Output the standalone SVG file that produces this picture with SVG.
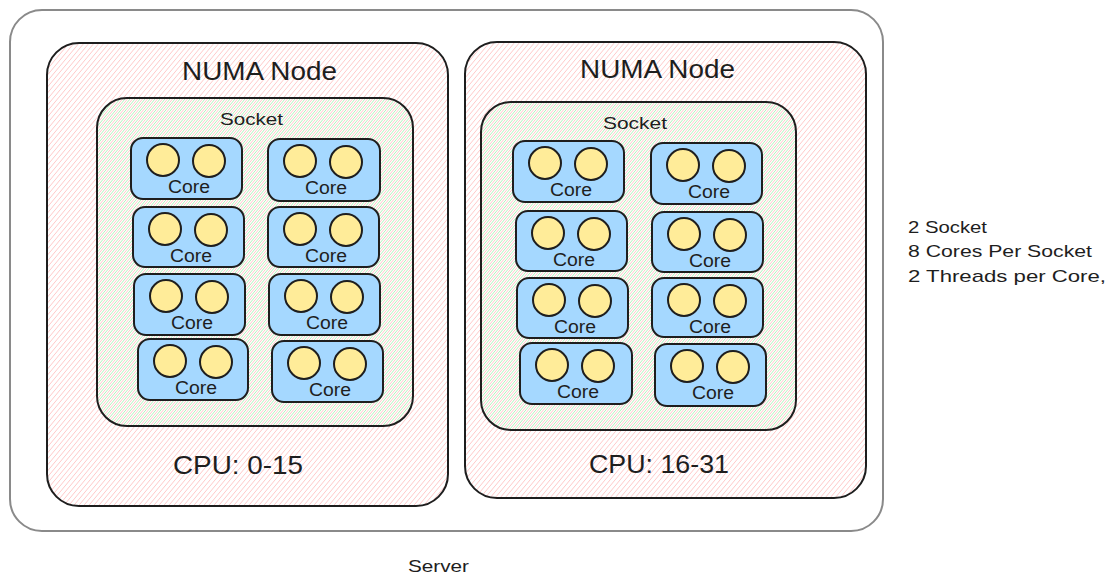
<svg xmlns="http://www.w3.org/2000/svg" width="1111" height="588" viewBox="0 0 1111 588">
  <style>
    .txt { font-family: "Liberation Sans", Arial, sans-serif; fill: #1e1e1e; }
    .server { fill: none; stroke: #8a8a8a; stroke-width: 2; }
    .numa { fill: url(#hatch-red); stroke: #1e1e1e; stroke-width: 2; }
    .socket { fill: url(#hatch-green); stroke: #1e1e1e; stroke-width: 2; }
    .core { fill: #a5d8ff; stroke: #1e1e1e; stroke-width: 2; }
    .thread { fill: #ffec99; stroke: #1e1e1e; stroke-width: 2; }
    .title { font-size: 25px; }
    .cpu { font-size: 25px; }
    .label { font-size: 17px; }
    .corelabel { font-size: 18px; text-anchor: middle; }
    .note { font-size: 17px; }
    .hr { stroke: #ffc9c9; stroke-width: 1; fill: none; }
    .hg { stroke: #b2f2bb; stroke-width: 1; fill: none; }
  </style>
  <defs>
    <pattern id="hatch-red" patternUnits="userSpaceOnUse" x="0" y="0" width="5" height="6">
      <path class="hr" d="M-5,6 L0,0 M0,6 L5,0 M5,6 L10,0"/>
    </pattern>
    <pattern id="hatch-green" patternUnits="userSpaceOnUse" x="0" y="0" width="5" height="6">
      <path class="hg" d="M-2.5,6 L2.5,0 M2.5,6 L7.5,0"/>
    </pattern>
    <g id="core-shape">
      <circle class="thread" cx="32" cy="22" r="16"/>
      <circle class="thread" cx="78" cy="23" r="16"/>
      <text class="txt corelabel" x="58" y="55" textLength="42" lengthAdjust="spacingAndGlyphs">Core</text>
    </g>
  </defs>

  <rect x="0" y="0" width="1111" height="588" fill="#ffffff"/>

  <g id="server">
    <rect class="server" x="10" y="10" width="873" height="521" rx="32"/>
    <text class="txt label" x="408" y="572" textLength="61" lengthAdjust="spacingAndGlyphs">Server</text>
  </g>

  <g id="numa-1">
    <rect class="numa" x="47" y="43" width="401" height="463" rx="32"/>
    <text class="txt title" x="182" y="80" textLength="155" lengthAdjust="spacingAndGlyphs">NUMA Node</text>
    <text class="txt cpu" x="173" y="474" textLength="130" lengthAdjust="spacingAndGlyphs">CPU: 0-15</text>
  </g>

  <g id="numa-2">
    <rect class="numa" x="465" y="42" width="401" height="456" rx="32"/>
    <text class="txt title" x="580" y="78" textLength="155" lengthAdjust="spacingAndGlyphs">NUMA Node</text>
    <text class="txt cpu" x="589" y="473" textLength="140" lengthAdjust="spacingAndGlyphs">CPU: 16-31</text>
  </g>

  <g id="socket-1">
    <rect class="socket" x="97" y="98" width="316" height="328" rx="30"/>
    <text class="txt label" x="220" y="125" textLength="63" lengthAdjust="spacingAndGlyphs">Socket</text>
  </g>

  <g id="socket-2">
    <rect class="socket" x="481" y="102" width="315" height="328" rx="30"/>
    <text class="txt label" x="603" y="129" textLength="64" lengthAdjust="spacingAndGlyphs">Socket</text>
  </g>

  <g id="core-1-1" transform="translate(131,138)"><rect class="core" width="111" height="61" rx="12"/><use href="#core-shape"/></g>
  <g id="core-1-2" transform="translate(268,139)"><rect class="core" width="112" height="62" rx="12"/><use href="#core-shape"/></g>
  <g id="core-1-3" transform="translate(133,207)"><rect class="core" width="111" height="60" rx="12"/><use href="#core-shape"/></g>
  <g id="core-1-4" transform="translate(268,207)"><rect class="core" width="111" height="60" rx="12"/><use href="#core-shape"/></g>
  <g id="core-1-5" transform="translate(134,274)"><rect class="core" width="111" height="61" rx="12"/><use href="#core-shape"/></g>
  <g id="core-1-6" transform="translate(269,274)"><rect class="core" width="111" height="61" rx="12"/><use href="#core-shape"/></g>
  <g id="core-1-7" transform="translate(138,339)"><rect class="core" width="110" height="61" rx="12"/><use href="#core-shape"/></g>
  <g id="core-1-8" transform="translate(272,341)"><rect class="core" width="111" height="61" rx="12"/><use href="#core-shape"/></g>

  <g id="core-2-1" transform="translate(513,141)"><rect class="core" width="111" height="61" rx="12"/><use href="#core-shape"/></g>
  <g id="core-2-2" transform="translate(651,143)"><rect class="core" width="111" height="61" rx="12"/><use href="#core-shape"/></g>
  <g id="core-2-3" transform="translate(516,211)"><rect class="core" width="111" height="60" rx="12"/><use href="#core-shape"/></g>
  <g id="core-2-4" transform="translate(652,212)"><rect class="core" width="111" height="60" rx="12"/><use href="#core-shape"/></g>
  <g id="core-2-5" transform="translate(517,278)"><rect class="core" width="111" height="60" rx="12"/><use href="#core-shape"/></g>
  <g id="core-2-6" transform="translate(652,278)"><rect class="core" width="111" height="59" rx="12"/><use href="#core-shape"/></g>
  <g id="core-2-7" transform="translate(520,343)"><rect class="core" width="112" height="61" rx="12"/><use href="#core-shape"/></g>
  <g id="core-2-8" transform="translate(655,344)"><rect class="core" width="111" height="62" rx="12"/><use href="#core-shape"/></g>

  <g id="legend">
    <text class="txt note" x="908" y="233" textLength="79" lengthAdjust="spacingAndGlyphs">2 Socket</text>
    <text class="txt note" x="908" y="257" textLength="184" lengthAdjust="spacingAndGlyphs">8 Cores Per Socket</text>
    <text class="txt note" x="908" y="282" textLength="198" lengthAdjust="spacingAndGlyphs">2 Threads per Core,</text>
  </g>

  <g id="connectors"/>
</svg>
